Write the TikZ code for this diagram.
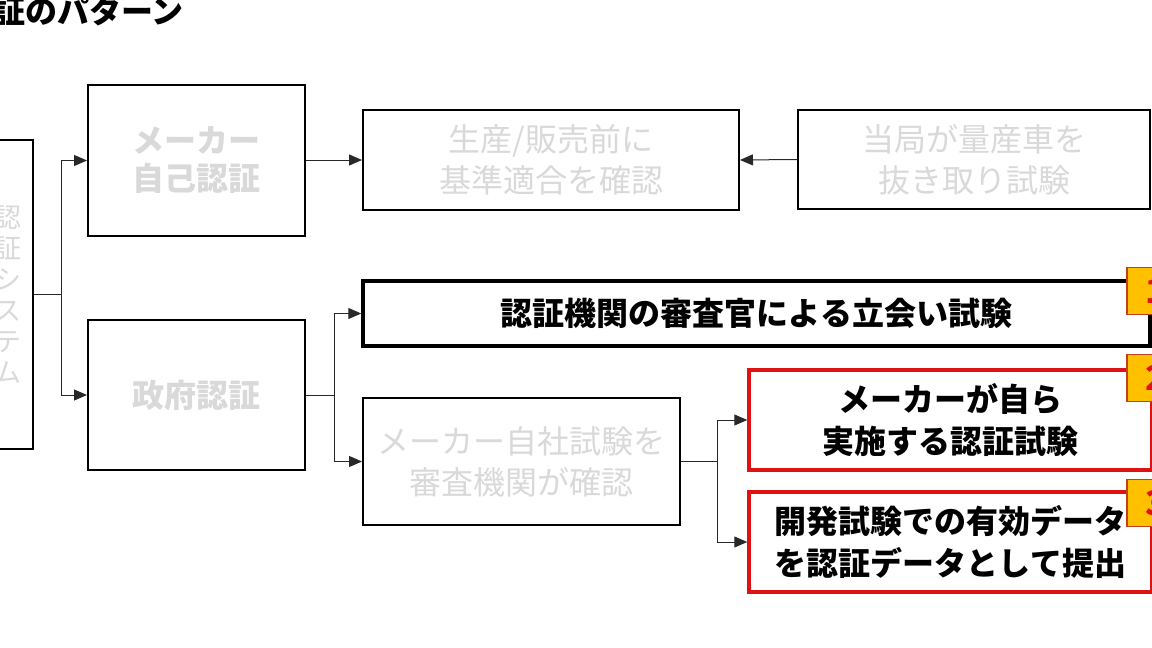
\documentclass[tikz,border=0pt]{standalone}
\usepackage{fontspec}
\setmainfont{Noto Sans CJK JP}
\usetikzlibrary{arrows.meta}
\definecolor{lgray}{RGB}{217,217,217}
\definecolor{myred}{RGB}{222,18,18}
\definecolor{badgefill}{RGB}{255,192,0}
\definecolor{badgeline}{RGB}{192,64,32}
\definecolor{conn}{RGB}{40,40,40}
\begin{document}
\begin{tikzpicture}[x=1pt,y=-1pt,
  thinbox/.style={draw=black,line width=2pt,inner sep=0pt,align=center},
  thickbox/.style={draw=black,line width=3.5pt,inner sep=0pt,align=center},
  redbox/.style={draw=myred,line width=3.5pt,fill=white,inner sep=0pt,align=center},
  graytxt/.style={text=lgray,font=\fontsize{32}{41}\selectfont},
  graybold/.style={text=lgray,font=\bfseries\fontsize{32}{38}\selectfont},
  blacktxt/.style={text=black,font=\bfseries\fontsize{32}{42}\selectfont},
  badge/.style={draw=badgeline,line width=1.5pt,fill=badgefill,inner sep=0pt,minimum width=58pt,minimum height=47pt,text=myred,font=\bfseries\fontsize{34}{34}\selectfont},
  conline/.style={draw=conn,line width=1pt},
  arr/.style={conline,-{Triangle[length=13pt,width=11pt]}}]
\useasboundingbox (0,0) rectangle (1152,648);
\fill[white] (0,0) rectangle (1152,648);
% title
\node[anchor=east,inner sep=0pt,font=\bfseries\fontsize{32}{36}\selectfont] (title) at (184,11) {認証のパターン};
% boxes
\node[thinbox,minimum width=50pt,minimum height=309pt,text=lgray,font=\fontsize{27}{31}\selectfont] (L) at (8,294.5) {認\\証\\シ\\ス\\テ\\ム};
\node[thinbox,graybold,minimum width=217pt,minimum height=151pt] (A) at (196.5,160.5) {メーカー\\自己認証};
\node[thinbox,graybold,minimum width=217pt,minimum height=150pt] (B) at (196.5,395) {政府認証};
\node[thinbox,graytxt,minimum width=376pt,minimum height=100pt] (C) at (551,160) {生産/販売前に\\基準適合を確認};
\node[thinbox,graytxt,minimum width=352pt,minimum height=99pt] (D) at (974,159.5) {当局が量産車を\\抜き取り試験};
\node[thickbox,blacktxt,minimum width=787pt,minimum height=65pt] (E) at (756.5,313.5) {認証機関の審査官による立会い試験};
\node[thinbox,graytxt,minimum width=317pt,minimum height=127pt] (F) at (521.5,461.5) {メーカー自社試験を\\審査機関が確認};
\node[redbox,blacktxt,minimum width=403pt,minimum height=100pt] (G) at (950.5,420) {メーカーが自ら\\実施する認証試験};
\node[redbox,blacktxt,minimum width=403pt,minimum height=100pt] (H) at (950.5,542) {開発試験での有効データ\\を認証データとして提出};
% badges
\node[badge] (b1) at (1156,291) {1};
\node[badge] (b2) at (1156,378) {2};
\node[badge] (b3) at (1156,503) {3};
% connectors
\draw[conline] (L.east) -- ++(27,0) coordinate (j1);
\draw[arr] (j1) |- (A.west);
\draw[arr] (j1) |- (B.west);
\draw[arr] (A.east |- C.west) -- (C.west);
\draw[arr] (D.west) -- (C.east);
\draw[conline] (B.east) -- ++(28,0) coordinate (j2);
\draw[arr] (j2) |- (E.west);
\draw[arr] (j2) |- (F.west);
\draw[conline] (F.east) -- ++(36,0) coordinate (j3);
\draw[arr] (j3) |- (G.west);
\draw[arr] (j3) |- (H.west);
\end{tikzpicture}
\end{document}
